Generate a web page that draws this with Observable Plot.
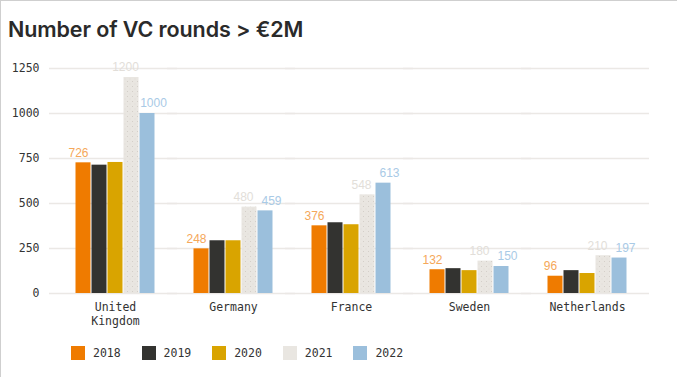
<!DOCTYPE html>
<html>
<head>
<meta charset="utf-8">
<script src="https://cdn.jsdelivr.net/npm/d3@7"></script>
<script src="https://cdn.jsdelivr.net/npm/@observablehq/plot@0.6"></script>
<style>
  html, body { margin: 0; padding: 0; background: #fff; }
  #wrap { position: relative; width: 676px; height: 376px; border-left: 1px solid #cfcfcf; border-top: 1px solid #cfcfcf; overflow: hidden; }
  #title { position: absolute; left: 7px; top: 15px; font-family: Inter, "Liberation Sans", Arial, sans-serif; font-weight: 600; font-size: 21.5px; color: #2a2a2a; letter-spacing: -0.1px; }
  #chart { position: absolute; left: -1px; top: 49px; }
  #legend { position: absolute; left: 70px; top: 345px; display: flex; font-family: "DejaVu Sans Mono", monospace; font-size: 11.5px; color: #333; }
  .item { display: flex; align-items: center; width: 70.6px; }
  .sw { width: 14px; height: 14px; margin-right: 8px; }
</style>
</head>
<body>
<div id="wrap">
  <div id="title">Number of VC rounds &gt; €2M</div>
  <div id="chart"></div>
  <div id="legend"></div>
</div>
<script>
const countries = ["United Kingdom", "Germany", "France", "Sweden", "Netherlands"];
const countryLabels = ["United\nKingdom", "Germany", "France", "Sweden", "Netherlands"];
const years = ["2018", "2019", "2020", "2021", "2022"];
const v2018 = [726, 248, 376, 132, 96];
const v2019 = [713, 293, 393, 138, 127];
const v2020 = [728, 293, 382, 127, 111];
const v2021 = [1200, 480, 548, 180, 210];
const v2022 = [1000, 459, 613, 150, 197];
const yTicks = [0, 250, 500, 750, 1000, 1250];
const barColors = ["#ef7b00", "#333330", "#d9a400", "url(#dots)", "#9bbfdc"];
const swatchColors = ["#ef7b00", "#333330", "#d9a400", "#e9e6e1", "#9bbfdc"];
const labelColors = {"2018": "#f5a85a", "2021": "#e2ded9", "2022": "#a9cae6"};

const series = [v2018, v2019, v2020, v2021, v2022];
const data = [];
years.forEach((yr, j) => countries.forEach((c, i) => data.push({country: c, year: yr, value: series[j][i]})));
const axisData = countries.map((c, i) => ({country: c, label: countryLabels[i]}));

const labelMark = (yr, dx) => Plot.text(data.filter(d => d.year === yr), {
  fx: "country", x: "year", y: "value", text: d => String(d.value),
  dy: -10, dx, fill: labelColors[yr], fontSize: 12,
  fontFamily: "Liberation Sans, Arial, sans-serif"
});

const plot = Plot.plot({
  width: 677,
  height: 280,
  marginLeft: 55,
  marginRight: 31,
  marginTop: 18,
  marginBottom: 37,
  style: {fontFamily: "DejaVu Sans Mono, monospace", fontSize: "11.5px", color: "#333", background: "transparent"},
  fx: {domain: countries, padding: 0, label: null, axis: null},
  x: {domain: years, paddingInner: 0, paddingOuter: 1.07, axis: null},
  y: {domain: [0, 1250], ticks: yTicks, tickSize: 0, tickPadding: 17, label: null, tickFormat: d => String(d)},
  color: {domain: years, range: barColors},
  marks: [
    Plot.gridY(yTicks, {stroke: "#ebe8e5", strokeOpacity: 1, strokeWidth: 1.6, insetLeft: -7, insetRight: -3}),
    Plot.barY(data, {fx: "country", x: "year", y: "value", fill: "year", insetLeft: 0.5, insetRight: 0.5}),
    labelMark("2018", -5),
    labelMark("2021", -6),
    labelMark("2022", 6),
    Plot.text(axisData, {fx: "country", text: "label", frameAnchor: "bottom", lineAnchor: "top",
      dy: 7, lineHeight: 1.27, fill: "#333", fontSize: 11.5})
  ]
});

// dotted pattern for 2021 bars
const ns = "http://www.w3.org/2000/svg";
const defs = document.createElementNS(ns, "defs");
defs.innerHTML = '<pattern id="dots" width="5" height="5" patternUnits="userSpaceOnUse">' +
  '<rect width="5" height="5" fill="#e9e6e1"/>' +
  '<circle cx="1.5" cy="1.5" r="0.5" fill="#cdc8c1"/><circle cx="4" cy="4" r="0.45" fill="#d6d1cb"/></pattern>';
plot.insertBefore(defs, plot.firstChild);
document.getElementById("chart").appendChild(plot);

const legend = document.getElementById("legend");
years.forEach((yr, j) => {
  const it = document.createElement("div");
  it.className = "item";
  const sw = document.createElement("div");
  sw.className = "sw";
  sw.style.background = swatchColors[j];
  const t = document.createElement("span");
  t.textContent = yr;
  it.appendChild(sw); it.appendChild(t);
  legend.appendChild(it);
});
</script>
</body>
</html>
